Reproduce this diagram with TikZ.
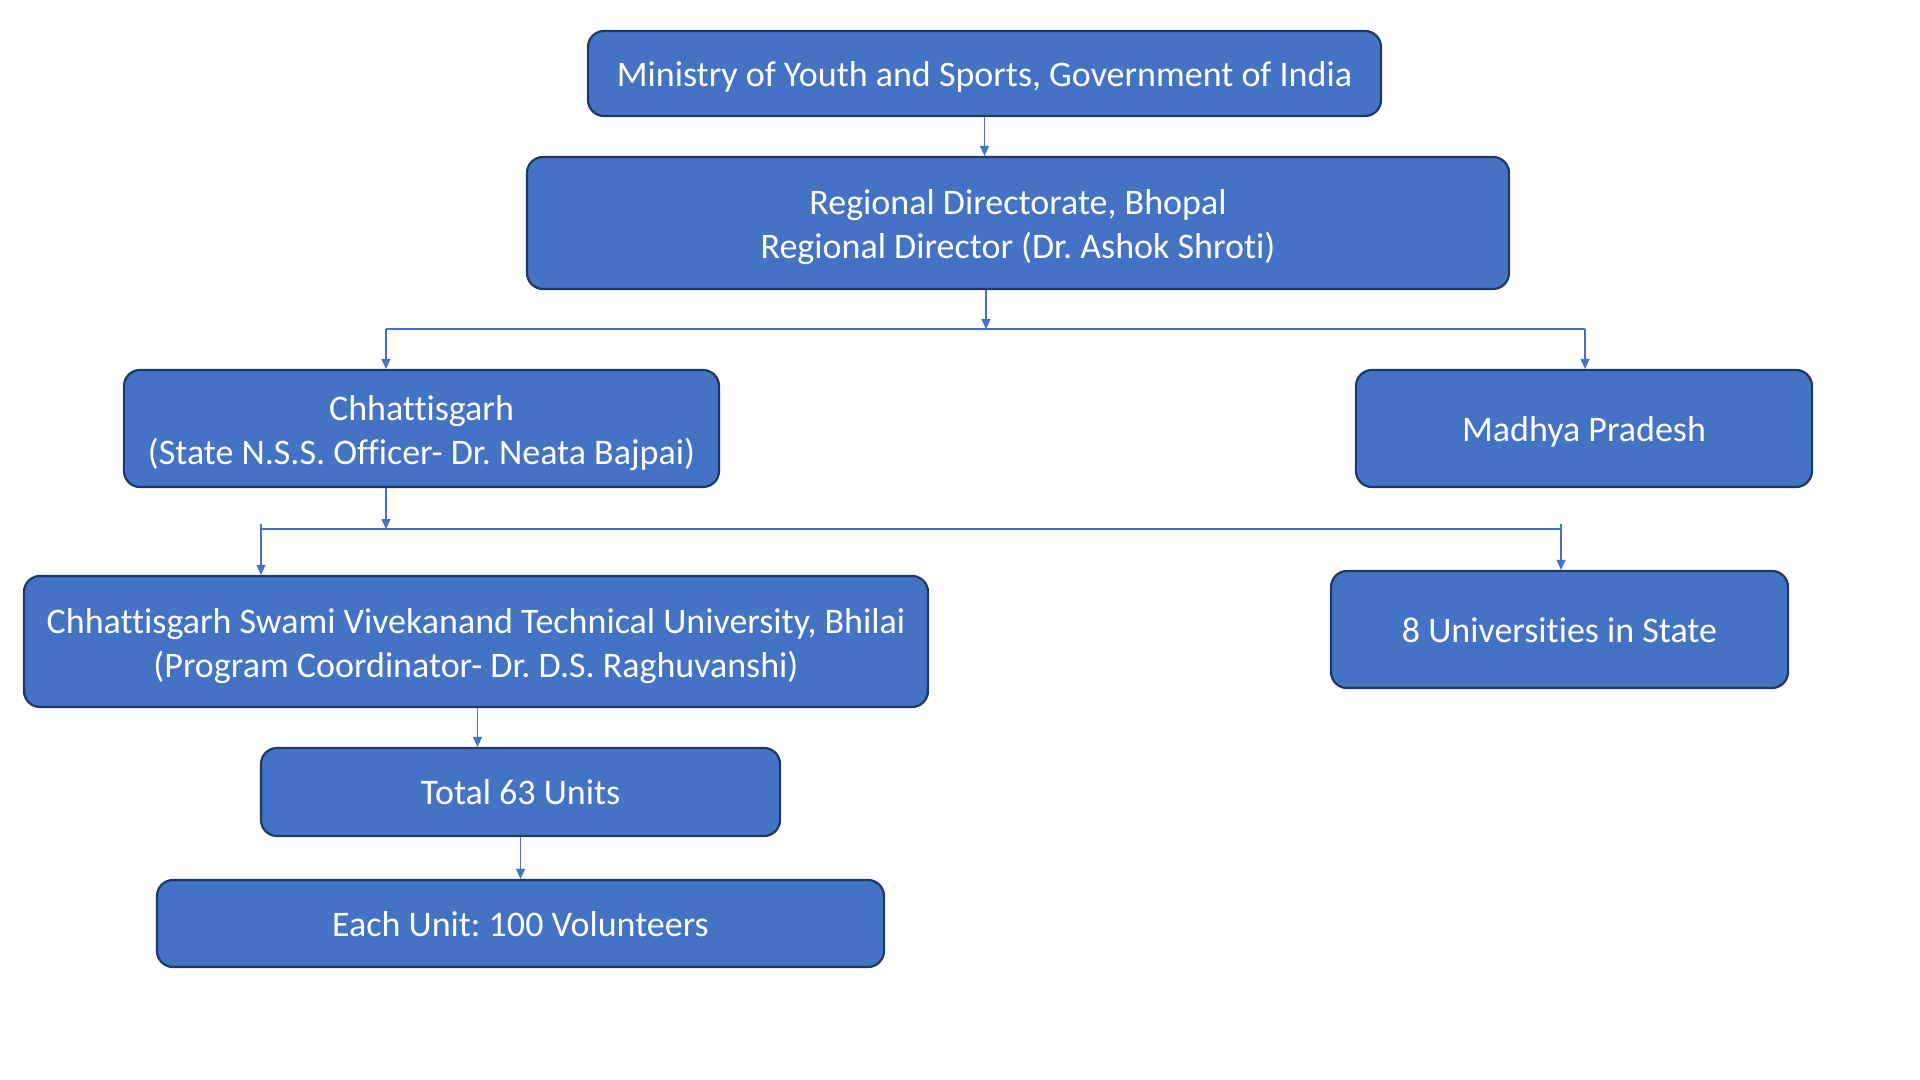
\documentclass[tikz,border=0pt]{standalone}
\usepackage{fontspec}
\setmainfont{Carlito}[Ligatures=NoCommon]
\usetikzlibrary{arrows.meta}
\definecolor{boxfill}{HTML}{4472C4}
\definecolor{boxline}{HTML}{1F3864}
\definecolor{conncol}{HTML}{4472C4}
\newcommand{\tallstrut}{\rule{0pt}{18pt}}
\newcommand{\deepstrut}{\rule[-4.5pt]{0pt}{0pt}}
\tikzset{
  box/.style={draw=boxline, line width=1.1pt, fill=boxfill, rounded corners=8pt,
    text=white, align=center, inner sep=0pt,
    font=\fontsize{18pt}{22pt}\selectfont\frenchspacing,
    execute at begin node={\rule{0pt}{0.97em}},
    execute at end node={\rule[-0.25em]{0pt}{0pt}}},
  conn/.style={draw=conncol, line width=0.6pt},
  arr/.style={conn, -{Triangle[width=4.5pt,length=5pt]}}
}
\begin{document}
\begin{tikzpicture}[x=0.5pt,y=-0.5pt]
\useasboundingbox (0,0) rectangle (1920,1080);
\node[box, minimum width=396.5pt, minimum height=42.5pt] (min) at (984.5,73.5)
  {Ministry of Youth and Sports, Government of India};
\node[box, minimum width=491pt, minimum height=66pt] (reg) at (1018,223)
  {\tallstrut Regional Directorate, Bhopal\\Regional Director (Dr. Ashok Shroti)\deepstrut};
\node[box, minimum width=297.5pt, minimum height=58.5pt] (chh) at (421.5,428.5)
  {\tallstrut Chhattisgarh\\(State N.S.S. Officer- Dr. Neata Bajpai)\deepstrut};
\node[box, minimum width=228pt, minimum height=58.5pt] (mp) at (1584,428.5)
  {Madhya Pradesh};
\node[box, minimum width=452pt, minimum height=65.5pt] (csv) at (476,641.5)
  {\tallstrut Chhattisgarh Swami Vivekanand Technical University, Bhilai\\(Program Coordinator- Dr. D.S. Raghuvanshi)\deepstrut};
\node[box, minimum width=228.5pt, minimum height=58.5pt] (univ) at (1559.5,629.5)
  {8 Universities in State};
\node[box, minimum width=259.5pt, minimum height=44pt] (tot) at (520.5,792)
  {Total 63 Units};
\node[box, minimum width=363.5pt, minimum height=43.5pt] (each) at (520.5,923.5)
  {Each Unit: 100 Volunteers};
% connectors
\draw[arr] (min.south) -- (min.south |- reg.north);
\coordinate (j1) at (986,329);
\coordinate (l1) at (386,329);
\coordinate (r1) at (1585,329);
\draw[arr] (reg.south -| j1) -- (j1);
\draw[conn] (l1) -- (r1);
\draw[arr] (l1) -- (l1 |- chh.north);
\draw[arr] (r1) -- (r1 |- mp.north);
\coordinate (j2) at (386,529);
\coordinate (l2) at (261,529);
\coordinate (r2) at (1561,529);
\coordinate (l2t) at (261,524);
\coordinate (r2t) at (1561,524);
\draw[arr] (chh.south -| j2) -- (j2);
\draw[conn] (l2) -- (r2);
\draw[arr] (l2t) -- (l2 |- csv.north);
\draw[arr] (r2t) -- (r2 |- univ.north);
\coordinate (c3) at (477.5,720);
\draw[arr] (csv.south -| c3) -- (c3 |- tot.north);
\draw[arr] (tot.south) -- (each.north);
\end{tikzpicture}
\end{document}
